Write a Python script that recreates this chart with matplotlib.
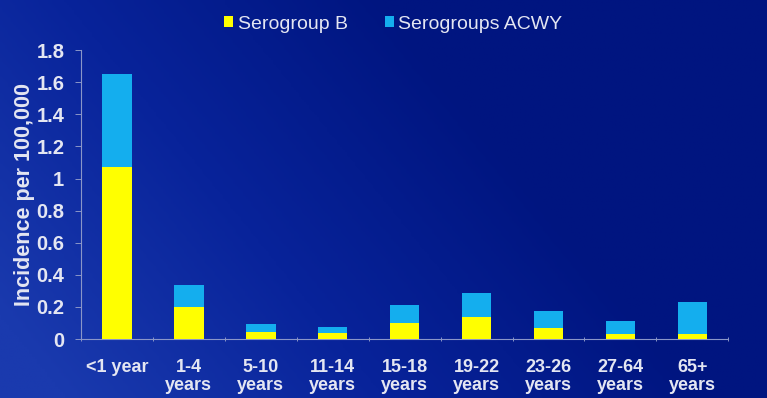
import numpy as np
import matplotlib
matplotlib.use("Agg")
import matplotlib.pyplot as plt
from matplotlib.colors import LinearSegmentedColormap
from matplotlib.patches import Patch

plt.rcParams["font.family"] = ["Liberation Sans", "DejaVu Sans"]

age_groups = ["<1 year", "1-4\nyears", "5-10\nyears", "11-14\nyears", "15-18\nyears",
              "19-22\nyears", "23-26\nyears", "27-64\nyears", "65+\nyears"]
serogroup_b = [1.07, 0.20, 0.045, 0.037, 0.10, 0.14, 0.07, 0.03, 0.03]
serogroups_acwy = [0.58, 0.14, 0.048, 0.038, 0.11, 0.15, 0.105, 0.08, 0.20]

YELLOW = "#FFFF00"
CYAN = "#14AEEE"
TEXT = "#E4E6F2"
SPINE = "#8A96C8"

fig = plt.figure(figsize=(7.67, 3.98), dpi=100)

# slide-style blue background, brighter on the lower left
bg = fig.add_axes([0, 0, 1, 1], zorder=-10)
xx, yy = np.meshgrid(np.linspace(0, 1, 300), np.linspace(0, 1, 160))
shade = np.clip(1.1 - 1.2 * xx - 0.5 * yy, 0, 1)
cmap = LinearSegmentedColormap.from_list("slide", ["#001580", "#08239A", "#1A3AAE"])
bg.imshow(shade, cmap=cmap, aspect="auto", origin="lower", extent=[0, 1, 0, 1])
bg.set_axis_off()

ax = fig.add_axes([0.1056, 0.148, 0.844, 0.726])
ax.patch.set_alpha(0)
x = np.arange(len(age_groups))
ax.bar(x, serogroup_b, width=0.41, color=YELLOW, zorder=3)
ax.bar(x, serogroups_acwy, width=0.41, bottom=serogroup_b, color=CYAN, zorder=3)

ax.set_xlim(-0.5, len(age_groups) - 0.5)
ax.set_ylim(0, 1.8)
ax.set_yticks(np.arange(0, 1.81, 0.2))
ax.set_yticklabels(["0", "0.2", "0.4", "0.6", "0.8", "1", "1.2", "1.4", "1.6", "1.8"])
ax.set_xticks(x)
ax.set_xticklabels(age_groups, linespacing=1.15)
ax.set_xticks(np.arange(-0.5, len(age_groups), 1), minor=True)

for side in ["top", "right"]:
    ax.spines[side].set_visible(False)
for side in ["left", "bottom"]:
    ax.spines[side].set_color(SPINE)
    ax.spines[side].set_linewidth(0.8)

ax.tick_params(axis="y", colors=SPINE, labelcolor=TEXT, labelsize=14.5, length=4, width=0.7, pad=8)
ax.tick_params(axis="x", which="major", length=0, labelcolor=TEXT, labelsize=13, pad=14)
ax.tick_params(axis="x", which="minor", colors=SPINE, length=3, width=0.7, direction="inout")
for lbl in ax.get_xticklabels() + ax.get_yticklabels():
    lbl.set_fontweight("bold")

ax.set_ylabel("Incidence per 100,000", color=TEXT, fontsize=15.5, fontweight="bold", labelpad=1)

handles = [Patch(facecolor=YELLOW, label="Serogroup B"),
           Patch(facecolor=CYAN, label="Serogroups ACWY")]
fig.legend(handles=handles, loc="upper center", bbox_to_anchor=(0.513, 1.005), ncol=2,
           frameon=False, fontsize=14, labelcolor=TEXT, handlelength=0.45, handleheight=0.45,
           handletextpad=0.25, columnspacing=1.9)

fig.savefig("out.png", dpi=100)
